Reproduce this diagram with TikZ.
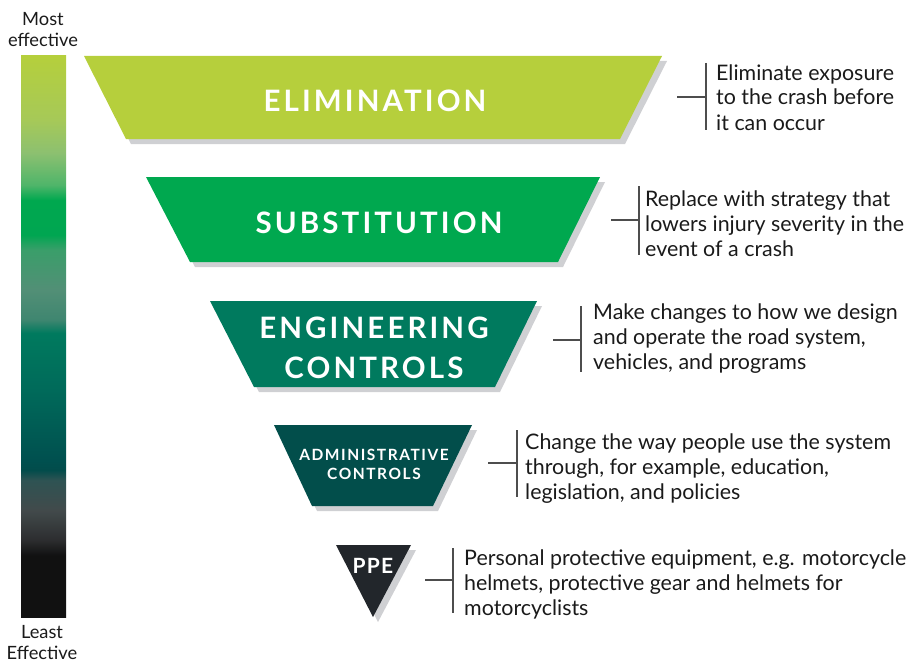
\documentclass[tikz,border=0pt]{standalone}
\usepackage{fontspec}
\setmainfont{Lato}
\definecolor{elimc}{HTML}{B6CF3C}
\definecolor{substc}{HTML}{00A84F}
\definecolor{engc}{HTML}{007A5E}
\definecolor{adminc}{HTML}{024E4B}
\definecolor{ppec}{HTML}{22262B}
\definecolor{shadowgray}{HTML}{CFD0D3}
\definecolor{bracketgray}{HTML}{4D4D4D}
\definecolor{textblack}{HTML}{1A1A1A}
\definecolor{gA}{HTML}{111111}
\definecolor{gB}{HTML}{2C2D2F}
\definecolor{gC}{HTML}{424A4B}
\definecolor{gD}{HTML}{2E5353}
\definecolor{gE}{HTML}{024C4B}
\definecolor{gF}{HTML}{00504F}
\definecolor{gG}{HTML}{006A5A}
\definecolor{gH}{HTML}{007A5E}
\definecolor{gI}{HTML}{3F8670}
\definecolor{gJ}{HTML}{528F76}
\definecolor{gK}{HTML}{3A9E6A}
\definecolor{gL}{HTML}{00A651}
\definecolor{gM}{HTML}{00A84F}
\definecolor{gN}{HTML}{4FB56A}
\definecolor{gO}{HTML}{8CC070}
\definecolor{gP}{HTML}{A6C958}
\definecolor{gQ}{HTML}{B5CF3C}
\pgfdeclareverticalshading{effbar}{100bp}{%
color(0bp)=(gA); color(25bp)=(gA); color(30.5bp)=(gA); color(31.85bp)=(gB); color(34.5bp)=(gC);
color(37.2bp)=(gD); color(38.1bp)=(gE); color(39bp)=(gF); color(45.25bp)=(gG);
color(50.3bp)=(gH); color(51.5bp)=(gI); color(54.15bp)=(gJ); color(57.7bp)=(gK);
color(59.05bp)=(gL); color(62.15bp)=(gM); color(63.5bp)=(gN); color(66.35bp)=(gO);
color(69.3bp)=(gP); color(75bp)=(gQ); color(100bp)=(gQ)}
\newcommand\titlefont{\fontsize{29.5}{40}\selectfont\bfseries\addfontfeatures{LetterSpace=10.5}}
\newcommand\smalltitlefont{\fontsize{15.5}{20}\selectfont\bfseries\addfontfeatures{LetterSpace=10}}
\newcommand\ppefont{\fontsize{21}{25}\selectfont\bfseries\addfontfeatures{LetterSpace=6}}
\newcommand\descfont{\fontsize{21.4}{25}\selectfont}
\newcommand\sidefont{\fontsize{18.3}{21}\selectfont}
\begin{document}
\begin{tikzpicture}[x=1pt,y=-1pt,
  shadowshape/.style={fill=shadowgray},
  titletext/.style={text=white, anchor=base, inner sep=0pt},
  desc/.style={font=\descfont, align=left, anchor=base west, inner sep=0pt, text=textblack},
  sidelabel/.style={font=\sidefont, align=center, anchor=base, inner sep=0pt, text=textblack},
  bracket/.style={draw=bracketgray, line width=1.2pt}]
\useasboundingbox (0,0) rectangle (909,666);
% gradient bar
\shade[shading=effbar] (21,56) rectangle (66,617);
\node[sidelabel] (most) at (43,47) {Most\\effective};
\node[sidelabel] (least) at (42,659) {Least\\Effective};
% shadows
\fill[shadowshape, shift={(5,5)}] (84,56) -- (662,56) -- (620,139) -- (126,139) -- cycle;
\fill[shadowshape, shift={(5,5)}] (146,177) -- (600,177) -- (558,262) -- (190,262) -- cycle;
\fill[shadowshape, shift={(5,5)}] (210,301) -- (537,301) -- (495,387) -- (254,387) -- cycle;
\fill[shadowshape, shift={(5,5)}] (274,425) -- (472,425) -- (433,506) -- (312,506) -- cycle;
\fill[shadowshape, shift={(5,5)}] (336,545) -- (411,545) -- (373,617) -- cycle;
% shapes
\fill[elimc] (84,56) -- (662,56) -- (620,139) -- (126,139) -- cycle;
\fill[substc] (146,177) -- (600,177) -- (558,262) -- (190,262) -- cycle;
\fill[engc] (210,301) -- (537,301) -- (495,387) -- (254,387) -- cycle;
\fill[adminc] (274,425) -- (472,425) -- (433,506) -- (312,506) -- cycle;
\fill[ppec] (336,545) -- (411,545) -- (373,617) -- cycle;
% titles
\node[titletext, font=\titlefont] (elim) at (375,111) {ELIMINATION};
\node[titletext, font=\titlefont] (subst) at (379,233) {SUBSTITUTION};
\node[titletext, font=\titlefont] (eng1) at (374,338) {ENGINEERING};
\node[titletext, font=\titlefont] (eng2) at (374,378) {CONTROLS};
\node[titletext, font=\smalltitlefont] (adm1) at (374,460) {ADMINISTRATIVE};
\node[titletext, font=\smalltitlefont] (adm2) at (374,479) {CONTROLS};
\node[titletext, font=\ppefont] (ppe) at (373,573) {PPE};
% descriptions (anchor = baseline of last line)
\node[desc] (d1) at (716,130) {Eliminate exposure\\to the crash before\\it can occur};
\node[desc] (d2) at (645,256) {Replace with strategy that\\lowers injury severity in the\\event of a crash};
\node[desc] (d3) at (593,369) {Make changes to how we design\\and operate the road system,\\vehicles, and programs};
\node[desc] (d4) at (525,499) {Change the way people use the system\\through, for example, education,\\legislation, and policies};
\node[desc] (d5) at (464,615) {Personal protective equipment, e.g. motorcycle\\helmets, protective gear and helmets for\\motorcyclists};
% brackets
\coordinate (b1t) at (706,63); \coordinate (b1b) at (706,130); \coordinate (b1m) at (706,97); \coordinate (b1l) at (677,97);
\coordinate (b2t) at (639,186); \coordinate (b2b) at (639,255); \coordinate (b2m) at (639,220); \coordinate (b2l) at (611,220);
\coordinate (b3t) at (581,306); \coordinate (b3b) at (581,372); \coordinate (b3m) at (581,340); \coordinate (b3l) at (553,340);
\coordinate (b4t) at (517,430); \coordinate (b4b) at (517,497); \coordinate (b4m) at (517,463); \coordinate (b4l) at (488,463);
\coordinate (b5t) at (453,548); \coordinate (b5b) at (453,613); \coordinate (b5m) at (453,580); \coordinate (b5l) at (425,580);
\foreach \i in {1,...,5}{
  \draw[bracket] (b\i t) -- (b\i b);
  \draw[bracket] (b\i l) -- (b\i m);
}
\end{tikzpicture}
\end{document}
